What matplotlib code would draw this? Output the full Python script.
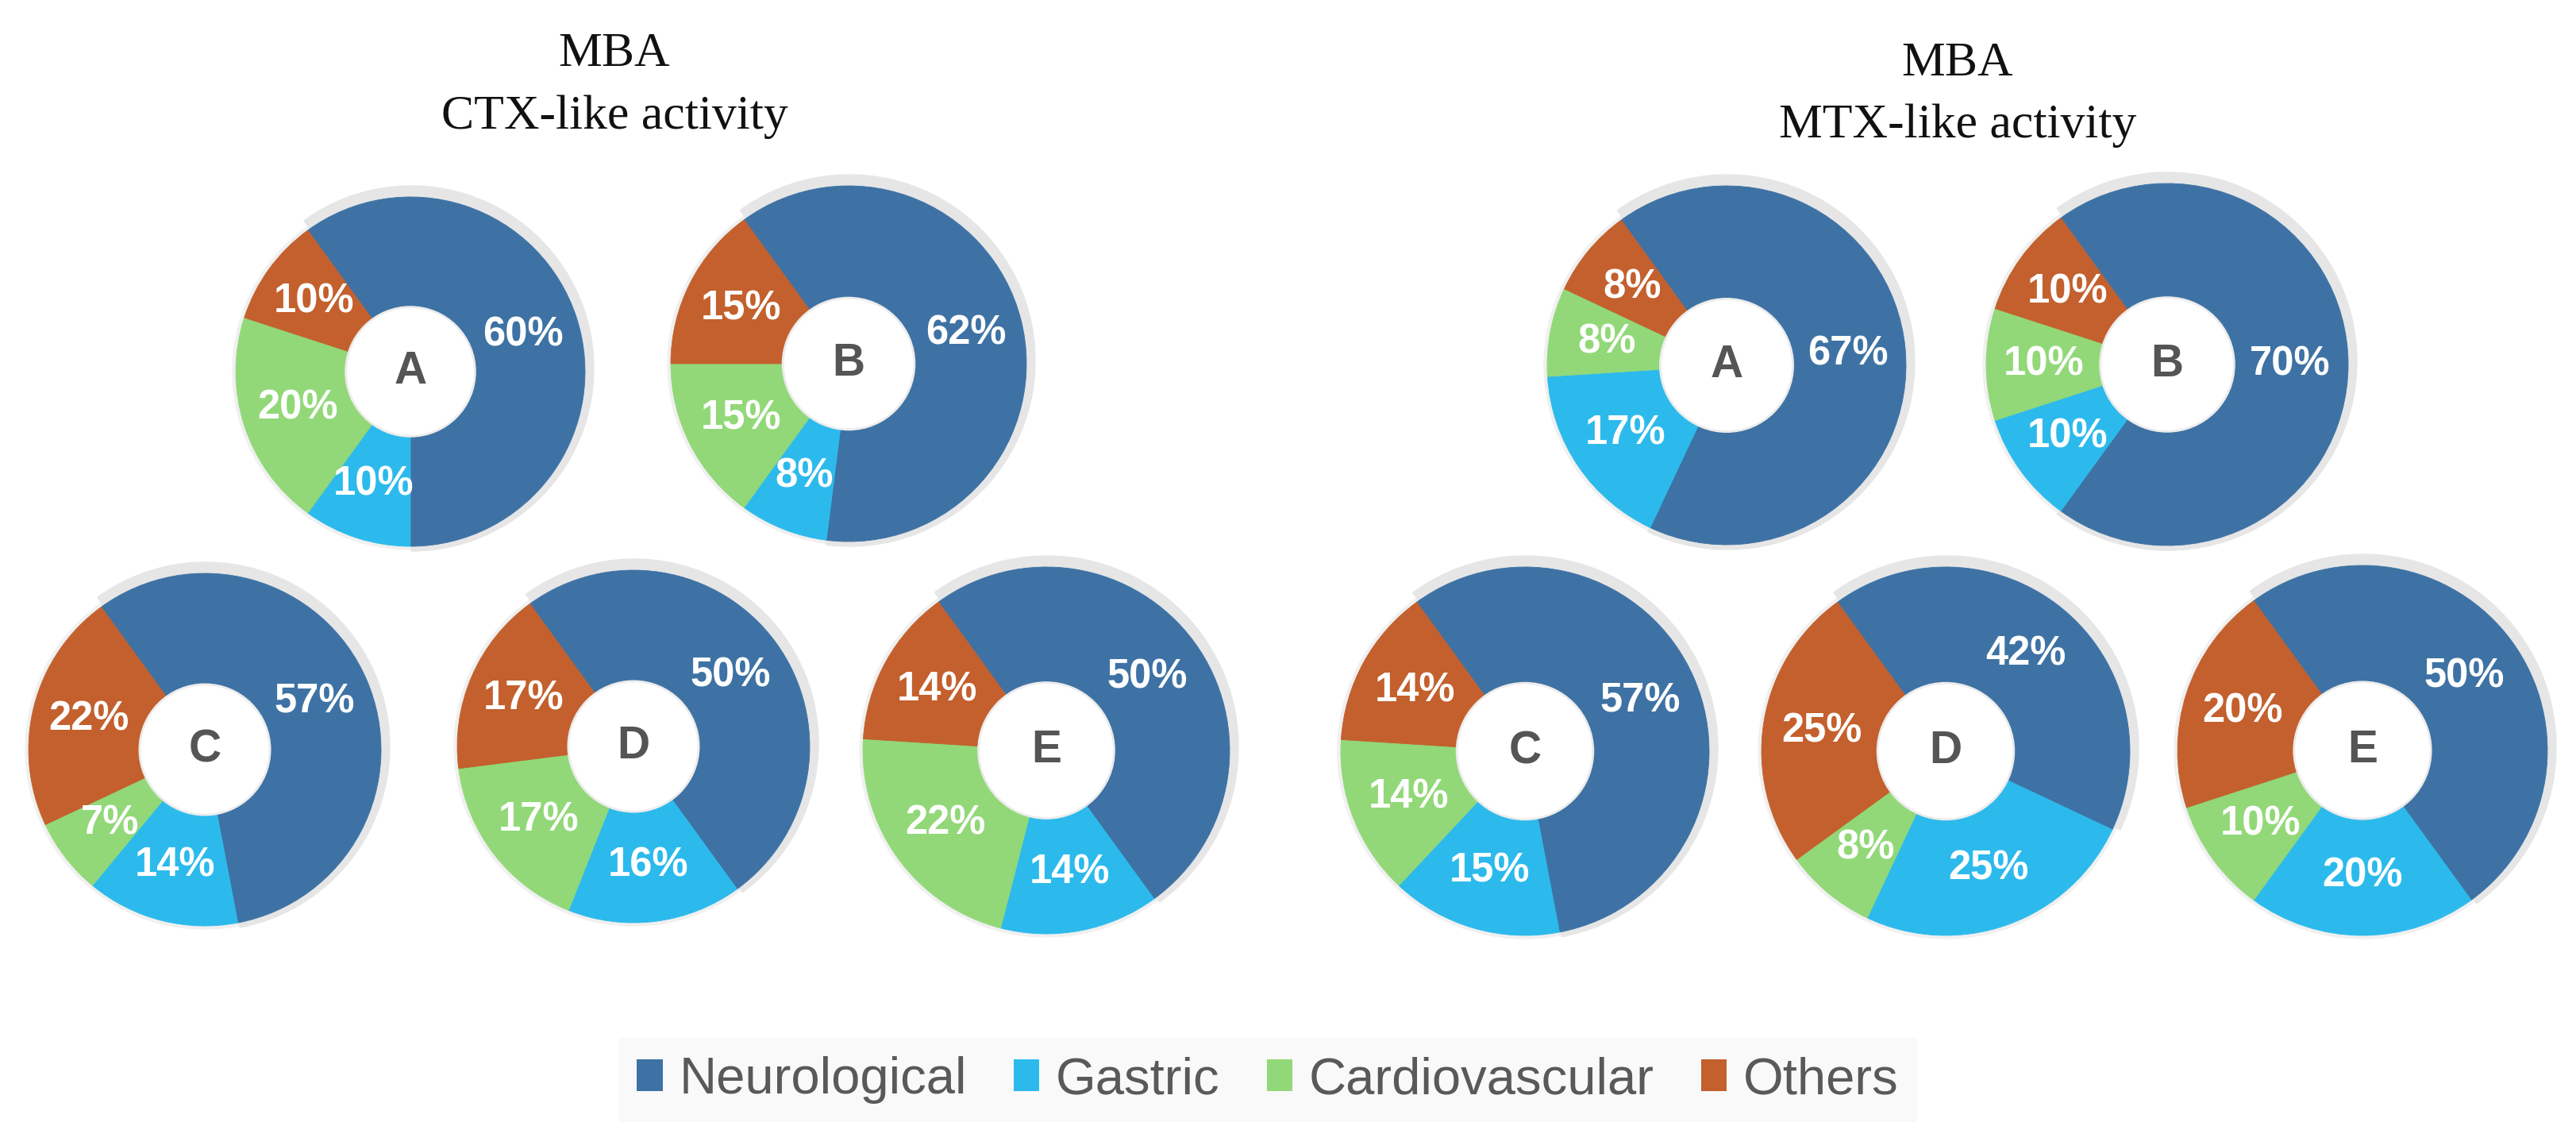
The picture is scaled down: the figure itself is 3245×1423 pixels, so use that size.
import matplotlib
matplotlib.use("Agg")
import matplotlib.pyplot as plt
from matplotlib.patches import Wedge, Circle, Patch

# ---------------- data ----------------
categories = ["Neurological", "Gastric", "Cardiovascular", "Others"]
colors = ["#3E72A4", "#2CBAEC", "#92D878", "#C3602D"]

panel_titles = ["MBA\nCTX-like activity", "MBA\nMTX-like activity"]
donut_letters = ["A", "B", "C", "D", "E"]

# values per donut: [Neurological, Gastric, Cardiovascular, Others]
ctx_A = [60, 10, 20, 10]
ctx_B = [62, 8, 15, 15]
ctx_C = [57, 14, 7, 22]
ctx_D = [50, 16, 17, 17]
ctx_E = [50, 14, 22, 14]

mtx_A = [67, 17, 8, 8]
mtx_B = [70, 10, 10, 10]
mtx_C = [57, 15, 14, 14]
mtx_D = [42, 25, 8, 25]
mtx_E = [50, 20, 10, 20]

ctx_values = [ctx_A, ctx_B, ctx_C, ctx_D, ctx_E]
mtx_values = [mtx_A, mtx_B, mtx_C, mtx_D, mtx_E]

# ---------------- layout (pixels) ----------------
W, H = 3245, 1423
ctx_layout = [(517, 468, 220), (1069, 458, 224), (258, 944, 222), (798, 940, 222), (1318, 945, 231)]
mtx_layout = [(2175, 460, 226), (2730, 459, 228), (1921, 946, 232), (2451, 946, 232), (2976, 945, 233)]
title_pos = [(774, 83, 162), (2466, 95, 173)]

fig = plt.figure(figsize=(W / 100, H / 100), dpi=100)
ax = fig.add_axes([0, 0, 1, 1])
ax.set_xlim(0, W)
ax.set_ylim(0, H)
ax.set_aspect("equal")
ax.axis("off")

START = 126  # neurological slice starts 36 deg left of 12 o'clock
HOLE = 0.37
SANS = ["Liberation Sans", "DejaVu Sans"]


def draw_donut(vals, letter, cx, cy, r):
    Y = H - cy
    # soft shadow
    ax.add_patch(Circle((cx, Y), r + 4, color="#f0f0f0", zorder=1))
    ax.add_patch(Wedge((cx + 1, Y + 4), r + 10, START - 360 * vals[0] / 100, START,
                       color="#e6e6e6", zorder=1))
    wedges, texts, autotexts = ax.pie(
        vals, colors=colors, startangle=START, counterclock=False,
        center=(cx, Y), radius=r, frame=True,
        autopct=lambda p: f"{p:.0f}%", pctdistance=0.68,
        wedgeprops=dict(width=r * (1 - HOLE), linewidth=0.6),
        textprops=dict(color="white", fontsize=36.5, fontweight="bold", family=SANS),
    )
    for w, c in zip(wedges, colors):
        w.set_zorder(2)
        w.set_edgecolor(c)
    for t in autotexts:
        t.set_zorder(4)
    ax.add_patch(Circle((cx, Y), r * HOLE, facecolor="white", edgecolor="#ececec",
                        linewidth=2, zorder=3))
    ax.text(cx, Y, letter, ha="center", va="center", fontsize=41, fontweight="bold",
            color="#555555", family=SANS, zorder=5)


for vals, letter, (cx, cy, r) in zip(ctx_values, donut_letters, ctx_layout):
    draw_donut(vals, letter, cx, cy, r)
for vals, letter, (cx, cy, r) in zip(mtx_values, donut_letters, mtx_layout):
    draw_donut(vals, letter, cx, cy, r)

ax.set_xlim(0, W)
ax.set_ylim(0, H)
ax.axis("off")

for title, (tx, b1, b2) in zip(panel_titles, title_pos):
    l1, l2 = title.split("\n")
    ax.text(tx, H - b1, l1, ha="center", va="baseline", fontsize=44.5,
            family=["Liberation Serif", "DejaVu Serif"], color="#111111")
    ax.text(tx, H - b2, l2, ha="center", va="baseline", fontsize=44.5,
            family=["Liberation Serif", "DejaVu Serif"], color="#111111")

handles = [Patch(facecolor=c, edgecolor="none") for c in colors]
leg = fig.legend(handles, categories, loc="center", bbox_to_anchor=(1597 / W, 1 - 1360 / H),
                 ncol=4, frameon=True, fancybox=False, fontsize=47,
                 handlelength=0.5, handleheight=0.55, handletextpad=0.32,
                 columnspacing=0.9, borderpad=0.35, borderaxespad=0)
leg.get_frame().set_facecolor("#f8f8f8")
leg.get_frame().set_edgecolor("none")
for t in leg.get_texts():
    t.set_color("#595959")
    t.set_family(SANS)

fig.savefig("out.png", dpi=100, facecolor="white")
